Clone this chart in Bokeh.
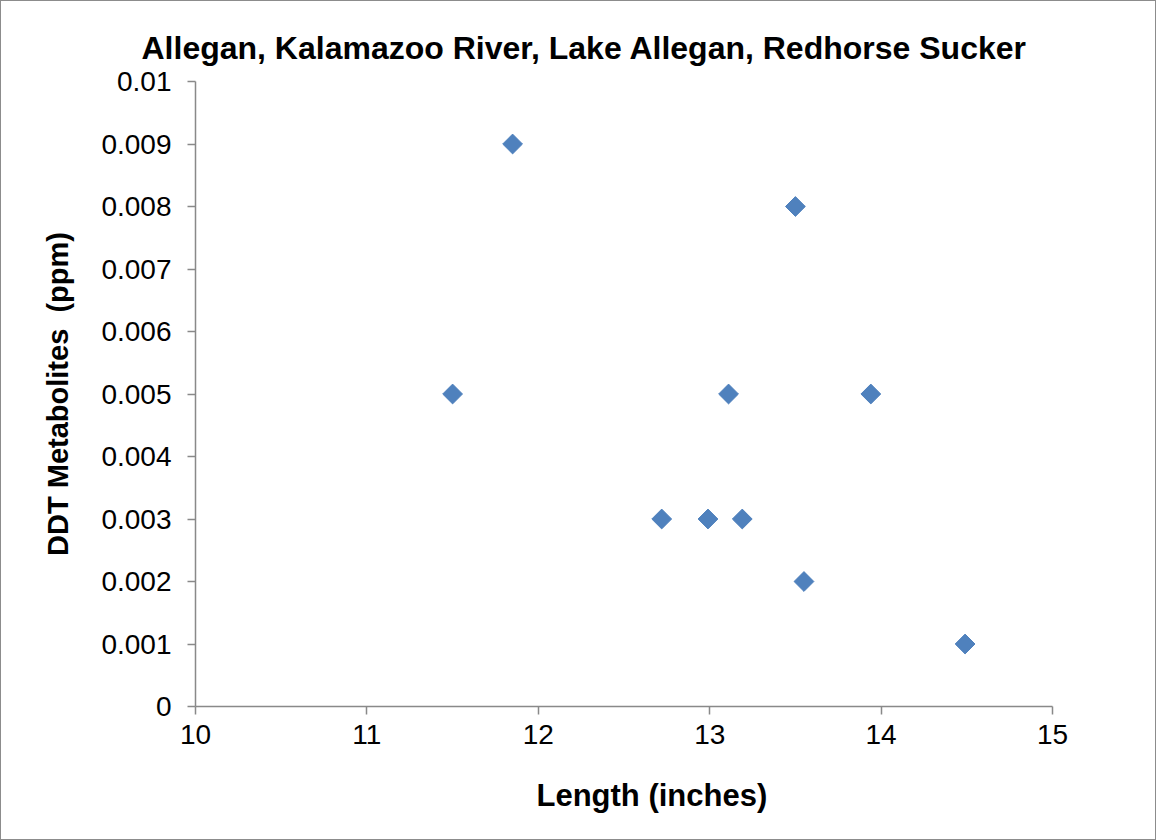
import numpy as np
from bokeh.plotting import figure
from bokeh.models import FixedTicker, Range1d, Title
from bokeh.embed import file_html
from bokeh.resources import INLINE

# Data
length_in = [11.5, 11.85, 12.72, 12.99, 13.11, 13.19, 13.5, 13.55, 13.94, 14.49]
ddt_ppm = [0.005, 0.009, 0.003, 0.003, 0.005, 0.003, 0.008, 0.002, 0.005, 0.001]

x_ticks = [10, 11, 12, 13, 14, 15]
y_ticks = [0, 0.001, 0.002, 0.003, 0.004, 0.005, 0.006, 0.007, 0.008, 0.009, 0.01]
y_tick_labels = ["0", "0.001", "0.002", "0.003", "0.004", "0.005", "0.006",
                 "0.007", "0.008", "0.009", "0.01"]

title_text = "Allegan, Kalamazoo River, Lake Allegan, Redhorse Sucker"
x_label = "Length (inches)"
y_label = "DDT Metabolites \u00a0(ppm)"

FONT = "Liberation Sans"
AXIS_COLOR = "#898989"
MARKER_COLOR = "#4F81BD"

p = figure(width=1156, height=840, output_backend="svg", toolbar_location=None,
           x_range=Range1d(10, 15), y_range=Range1d(0, 0.01),
           min_border_left=194, min_border_right=105,
           min_border_top=80, min_border_bottom=134)
p.styles = {"border": "1px solid #8c8c8c", "box-sizing": "border-box"}

p.outline_line_color = None
p.grid.grid_line_color = None
p.background_fill_color = "white"
p.border_fill_color = "white"

t = Title(text=title_text, align="left", offset=-54,
          text_font=FONT, text_font_size="32px", text_font_style="bold",
          text_color="#000000", standoff=32)
p.add_layout(t, "above")

xt = Title(text=x_label, align="left", offset=341,
           text_font=FONT, text_font_size="31px", text_font_style="bold",
           text_color="#000000", standoff=58)
p.add_layout(xt, "below")

p.scatter(length_in, ddt_ppm, marker="square", angle=np.pi / 4, size=14,
          fill_color=MARKER_COLOR, line_color=MARKER_COLOR, line_width=1)

p.xaxis.ticker = FixedTicker(ticks=x_ticks)
p.yaxis.ticker = FixedTicker(ticks=y_ticks)
p.yaxis.major_label_overrides = {v: s for v, s in zip(y_ticks, y_tick_labels)}

for ax in (p.xaxis, p.yaxis):
    ax.axis_line_color = AXIS_COLOR
    ax.axis_line_width = 1.5
    ax.major_tick_line_color = AXIS_COLOR
    ax.major_tick_line_width = 1.5
    ax.major_tick_in = 0
    ax.major_tick_out = 8
    ax.minor_tick_line_color = None
    ax.major_label_text_font = FONT
    ax.major_label_text_font_size = "28px"
    ax.major_label_text_color = "#000000"
    ax.axis_label_text_font = FONT
    ax.axis_label_text_font_size = "29px"
    ax.axis_label_text_font_style = "bold"
    ax.axis_label_text_color = "#000000"

p.yaxis.axis_label = y_label
p.xaxis.major_label_standoff = 10
p.yaxis.major_label_standoff = 16
p.yaxis.axis_label_standoff = 24

open("out.html", "w").write(file_html(p, INLINE))
